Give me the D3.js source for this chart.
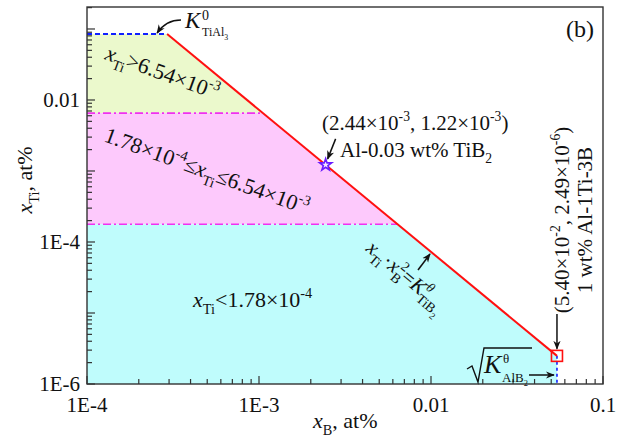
<!DOCTYPE html>
<html><head><meta charset="utf-8">
<script src="https://cdn.jsdelivr.net/npm/d3@7"></script>
<style>body{margin:0;background:#fff} text{font-family:"Liberation Serif","Times New Roman",serif;fill:#111}</style>
</head><body><svg id="c" width="622" height="439" font-family="Liberation Serif, serif"></svg>
<script>
// ---- data ----
const xDomain = [1e-4, 0.1];
const yDomain = [1e-6, 0.204];
const xTickValues = [1e-4, 1e-3, 1e-2, 1e-1];
const xTickLabels = ["1E-4", "1E-3", "0.01", "0.1"];
const yTickValues = [1e-6, 1e-4, 1e-2];
const yTickLabels = ["1E-6", "1E-4", "0.01"];
const kTiAl3 = 0.085;                 // x_Ti limit (K TiAl3)
const levels = [6.54e-3, 1.78e-4];    // region boundaries of x_Ti
const starPoint = [2.44e-3, 1.22e-3]; // Al-0.03 wt% TiB2
const squarePoint = [5.40e-2, 2.49e-6]; // 1 wt% Al-1Ti-3B
const kTiB2 = squarePoint[1] * squarePoint[0] * squarePoint[0];

const L = 87, R = 603, T = 7, B = 384;
const svg = d3.select("#c");
const x = d3.scaleLog().domain(xDomain).range([L, R]);
const y = d3.scaleLog().domain(yDomain).range([B, T]);
const xAt = v => Math.sqrt(kTiB2 / v);
const line = d3.line().x(d => x(d[0])).y(d => y(d[1]));

const defs = svg.append("defs");
defs.append("marker").attr("id", "ah").attr("viewBox", "0 0 10 10").attr("refX", 9).attr("refY", 5)
  .attr("markerWidth", 9).attr("markerHeight", 9).attr("orient", "auto-start-reverse")
  .attr("markerUnits", "userSpaceOnUse")
  .append("path").attr("d", "M0,1 L10,5 L0,9 L3,5 Z").attr("fill", "#111");

// regions
const x0 = xDomain[0], yb = yDomain[0];
const green = [[x0, kTiAl3], [xAt(kTiAl3), kTiAl3], [xAt(levels[0]), levels[0]], [x0, levels[0]]];
const pink = [[x0, levels[0]], [xAt(levels[0]), levels[0]], [xAt(levels[1]), levels[1]], [x0, levels[1]]];
const cyan = [[x0, levels[1]], [xAt(levels[1]), levels[1]], squarePoint, [squarePoint[0], yb], [x0, yb]];
svg.append("path").attr("d", line(green) + "Z").attr("fill", "#ebf9cc");
svg.append("path").attr("d", line(pink) + "Z").attr("fill", "#fdc9fc");
svg.append("path").attr("d", line(cyan) + "Z").attr("fill", "#bffcfc");

// lines
svg.append("path").attr("d", line([[x0, kTiAl3], [xAt(kTiAl3), kTiAl3]]))
  .attr("stroke", "#1020ff").attr("stroke-width", 2).attr("stroke-dasharray", "5,3").attr("fill", "none");
levels.forEach(l => svg.append("path").attr("d", line([[x0, l], [xAt(l), l]]))
  .attr("stroke", "#f030f0").attr("stroke-width", 1.6).attr("stroke-dasharray", "8,3,2,3").attr("fill", "none"));
svg.append("path").attr("d", line([[squarePoint[0], squarePoint[1]], [squarePoint[0], yb]]))
  .attr("stroke", "#1020ff").attr("stroke-width", 1.6).attr("stroke-dasharray", "3,3").attr("fill", "none");
svg.append("path").attr("d", line([[xAt(kTiAl3), kTiAl3], squarePoint]))
  .attr("stroke", "#ff1010").attr("stroke-width", 2).attr("fill", "none");

// star
const star = d3.symbol().type(d3.symbolStar).size(45);
svg.append("path").attr("d", star()).attr("transform", `translate(${x(starPoint[0])},${y(starPoint[1])})`)
  .attr("fill", "#f4e8ff").attr("stroke", "#6a1cff").attr("stroke-width", 1.6);
// square
svg.append("rect").attr("x", x(squarePoint[0]) - 5.5).attr("y", y(squarePoint[1]) - 5.5)
  .attr("width", 11).attr("height", 11).attr("fill", "none").attr("stroke", "#ff1010").attr("stroke-width", 1.6);

// frame
svg.append("rect").attr("x", L).attr("y", T).attr("width", R - L).attr("height", B - T)
  .attr("fill", "none").attr("stroke", "#333").attr("stroke-width", 1.4);

// ticks
const ax = svg.append("g").attr("stroke", "#333").attr("stroke-width", 1.2);
function decTicks(dom) {
  const out = [];
  const a = Math.floor(Math.log10(dom[0])), b = Math.ceil(Math.log10(dom[1]));
  for (let e = a; e <= b; e++) for (let m = 1; m < 10; m++) {
    const v = m * Math.pow(10, e);
    if (v >= dom[0] * 0.999 && v <= dom[1] * 1.001) out.push({ v, major: m === 1 });
  }
  return out;
}
decTicks(xDomain).forEach(t => ax.append("line").attr("x1", x(t.v)).attr("x2", x(t.v))
  .attr("y1", B).attr("y2", B - (t.major ? 8 : 5)));
decTicks(yDomain).forEach(t => ax.append("line").attr("y1", y(t.v)).attr("y2", y(t.v))
  .attr("x1", L).attr("x2", L + (t.major ? 8 : 5)));
xTickValues.forEach((v, i) => svg.append("text").attr("x", x(v)).attr("y", 412)
  .attr("text-anchor", "middle").attr("font-size", 21).text(xTickLabels[i]));
yTickValues.forEach((v, i) => svg.append("text").attr("x", 80).attr("y", y(v) + 7)
  .attr("text-anchor", "end").attr("font-size", 21).text(yTickLabels[i]));

// rich text helper
function rich(parent, px, py, parts, size, extra) {
  const t = parent.append("text").attr("x", px).attr("y", py).attr("font-size", size);
  if (extra) extra(t);
  let cur = 0;
  parts.forEach(p => {
    const s = t.append("tspan").text(p.t);
    const target = p.sub ? size * 0.3 : p.sup ? -size * 0.42 : p.sub2 ? size * 0.5 : 0;
    s.attr("dy", target - cur); cur = target;
    if (p.sub || p.sup) s.attr("font-size", size * 0.65);
    if (p.sub2) s.attr("font-size", size * 0.45);
    if (p.i) s.attr("font-style", "italic");
    if (p.dx) s.attr("dx", p.dx);
  });
  return t;
}

// axis titles
rich(svg, 313, 428, [{ t: "x", i: 1 }, { t: "B", sub: 1 }, { t: ", at%" }], 22);
rich(svg, 0, 0, [{ t: "x", i: 1 }, { t: "Ti", sub: 1 }, { t: ", at%" }], 22,
  t => t.attr("transform", "translate(32,180) rotate(-90)").attr("text-anchor", "middle"));

// (b)
svg.append("text").attr("x", 566).attr("y", 37).attr("font-size", 24).text("(b)");

// K TiAl3 label
svg.append("text").attr("x", 185).attr("y", 28).attr("font-size", 23).attr("font-style", "italic").text("K");
svg.append("text").attr("x", 202).attr("y", 20).attr("font-size", 14).text("0");
rich(svg, 202, 36, [{ t: "TiAl" }, { t: "3", sub: 1 }], 12);
const kx = x(xAt(kTiAl3)), ky = y(kTiAl3);
svg.append("path").attr("d", `M181,20 Q166,20 ${kx - 10},${ky - 1}`).attr("fill", "none")
  .attr("stroke", "#111").attr("stroke-width", 1.5).attr("marker-end", "url(#ah)");

// region labels
rich(svg, 0, 0, [{ t: "x", i: 1 }, { t: "Ti", sub: 1 }, { t: ">6.54×10" }, { t: "-3", sup: 1 }], 22,
  t => t.attr("transform", "translate(104,59) rotate(20)"));
rich(svg, 0, 0, [{ t: "1.78×10" }, { t: "-4", sup: 1 }, { t: "≤" }, { t: "x", i: 1 }, { t: "Ti", sub: 1 }, { t: "≤6.54×10" }, { t: "-3", sup: 1 }], 22,
  t => t.attr("transform", "translate(103,141) rotate(20)"));
rich(svg, 193, 307, [{ t: "x", i: 1 }, { t: "Ti", sub: 1 }, { t: "<1.78×10" }, { t: "-4", sup: 1 }], 22);

// star annotation
rich(svg, 322, 130, [{ t: "(2.44×10" }, { t: "-3", sup: 1 }, { t: ", 1.22×10" }, { t: "-3", sup: 1 }, { t: ")" }], 21);
rich(svg, 340, 157, [{ t: "Al-0.03 wt% TiB" }, { t: "2", sub: 1 }], 21);
const sx = x(starPoint[0]), sy = y(starPoint[1]);
svg.append("path").attr("d", `M${sx + 10},${sy - 26} L${sx + 2},${sy - 6}`).attr("stroke", "#111")
  .attr("stroke-width", 1.5).attr("marker-end", "url(#ah)");

// K TiB2 rotated label
rich(svg, 0, 0, [{ t: "x", i: 1 }, { t: "Ti", sub: 1 }, { t: "·" }, { t: "x", i: 1 }, { t: "B", sub: 1 }, { t: "2", sup: 1, dx: -8 },
  { t: "=" }, { t: "K", i: 1 }, { t: "θ", sup: 1, i: 1 }, { t: "TiB", sub: 1, dx: -7 }, { t: "2", sub2: 1 }], 21,
  t => t.attr("transform", "translate(365,250) rotate(40)"));
svg.append("path").attr("d", "M418,270 L430,254").attr("stroke", "#111").attr("stroke-width", 1.5).attr("marker-end", "url(#ah)");

// sqrt K AlB2
const qx = x(squarePoint[0]), qy = y(squarePoint[1]);
svg.append("path").attr("d", "M467,369 L472,366 L478,382 L484,348 L532,348").attr("fill", "none")
  .attr("stroke", "#111").attr("stroke-width", 1.4);
svg.append("text").attr("x", 484).attr("y", 373).attr("font-size", 26).attr("font-style", "italic").text("K");
svg.append("text").attr("x", 503).attr("y", 363).attr("font-size", 13).text("θ");
rich(svg, 502, 382, [{ t: "AlB" }, { t: "2", sub: 1 }], 13);
svg.append("path").attr("d", `M529,375 L${qx - 3},375`).attr("stroke", "#111").attr("stroke-width", 1.5).attr("marker-end", "url(#ah)");

// square annotation (vertical)
rich(svg, 0, 0, [{ t: "(5.40×10" }, { t: "-2", sup: 1 }, { t: ", 2.49×10" }, { t: "-6", sup: 1 }, { t: ")" }], 21,
  t => t.attr("transform", "translate(569,220) rotate(-90)").attr("text-anchor", "middle"));
svg.append("text").attr("transform", "translate(592,220) rotate(-90)").attr("text-anchor", "middle")
  .attr("font-size", 21).text("1 wt% Al-1Ti-3B");
svg.append("path").attr("d", `M${qx},314 L${qx},${qy - 7}`).attr("stroke", "#111").attr("stroke-width", 1.5).attr("marker-end", "url(#ah)");
</script></body></html>
